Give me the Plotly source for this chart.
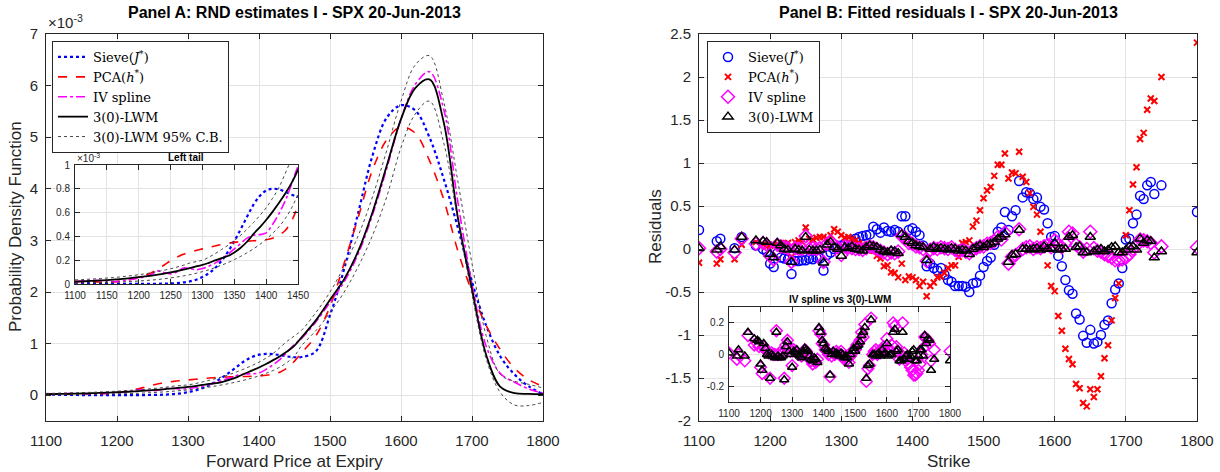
import plotly.graph_objects as go

# ---------------- Panel A data (densities in units of 1e-3) ----------------
fwd_price = [1100, 1110, 1120, 1130, 1140, 1150, 1160, 1170, 1180, 1190,
             1200, 1210, 1220, 1230, 1240, 1250, 1260, 1270, 1280, 1290,
             1300, 1310, 1320, 1330, 1340, 1350, 1360, 1370, 1380, 1390,
             1400, 1410, 1420, 1430, 1440, 1450,
             1460, 1480, 1500, 1520, 1540, 1560, 1580, 1600, 1620, 1640,
             1660, 1680, 1700, 1720, 1740, 1760, 1780, 1800]

rnd_sieve = [0.012, 0.010, 0.008, 0.006, 0.004, 0.003, 0.002, 0.001, 0.001, 0.001,
             0.001, 0.001, 0.001, 0.002, 0.003, 0.005, 0.008, 0.013, 0.022, 0.036,
             0.058, 0.090, 0.135, 0.195, 0.270, 0.360, 0.460, 0.565, 0.665, 0.740,
             0.785, 0.800, 0.795, 0.775, 0.750, 0.735,
             0.74, 0.85, 1.55, 2.45, 3.55, 4.65, 5.38, 5.62, 5.52, 5.00,
             4.20, 3.25, 2.20, 1.35, 0.75, 0.40, 0.17, 0.02]

rnd_pca = [0.020, 0.020, 0.019, 0.018, 0.017, 0.017, 0.018, 0.022, 0.030, 0.042,
           0.055, 0.072, 0.095, 0.125, 0.160, 0.195, 0.225, 0.250, 0.268, 0.282,
           0.295, 0.308, 0.320, 0.332, 0.342, 0.350, 0.356, 0.360, 0.363, 0.366,
           0.372, 0.385, 0.410, 0.450, 0.530, 0.660,
           0.82, 1.15, 1.72, 2.56, 3.46, 4.37, 4.95, 5.20, 5.08, 4.55,
           3.80, 2.80, 2.00, 1.35, 0.88, 0.52, 0.30, 0.17]

rnd_ivspline = [0.020, 0.025, 0.030, 0.032, 0.030, 0.025, 0.020, 0.022, 0.030, 0.040,
                0.050, 0.060, 0.080, 0.110, 0.095, 0.085, 0.100, 0.135, 0.130, 0.120,
                0.130, 0.150, 0.175, 0.210, 0.250, 0.295, 0.340, 0.385, 0.410, 0.415,
                0.430, 0.500, 0.590, 0.700, 0.840, 0.990,
                1.10, 1.42, 1.80, 2.20, 2.75, 3.50, 4.40, 5.35, 6.02, 6.27,
                5.55, 3.75, 2.15, 0.95, 0.42, 0.25, 0.12, 0.04]

rnd_lwm = [0.020, 0.022, 0.024, 0.027, 0.030, 0.033, 0.037, 0.041, 0.046, 0.051,
           0.057, 0.064, 0.071, 0.079, 0.088, 0.098, 0.109, 0.121, 0.134, 0.148,
           0.160, 0.178, 0.198, 0.218, 0.235, 0.265, 0.305, 0.355, 0.420, 0.476,
           0.538, 0.606, 0.680, 0.760, 0.850, 0.960,
           1.12, 1.45, 1.85, 2.25, 2.80, 3.55, 4.45, 5.35, 5.95, 6.12,
           5.30, 3.45, 2.05, 0.78, 0.16, 0.04, 0.025, 0.02]

rnd_cb_upper = [0.035, 0.037, 0.040, 0.043, 0.046, 0.050, 0.054, 0.059, 0.065, 0.071,
                0.078, 0.086, 0.095, 0.105, 0.116, 0.128, 0.142, 0.158, 0.176, 0.188,
                0.200, 0.225, 0.255, 0.290, 0.325, 0.365, 0.410, 0.460, 0.515, 0.575,
                0.640, 0.720, 0.810, 0.930, 1.050, 1.150,
                1.26, 1.60, 2.00, 2.50, 3.10, 3.85, 4.75, 5.70, 6.40, 6.58,
                5.70, 4.15, 2.55, 1.15, 0.40, 0.27, 0.21, 0.14]

rnd_cb_lower = [0.008, 0.009, 0.010, 0.011, 0.012, 0.013, 0.015, 0.017, 0.019, 0.022,
                0.025, 0.029, 0.033, 0.038, 0.044, 0.051, 0.059, 0.068, 0.078, 0.090,
                0.104, 0.120, 0.138, 0.158, 0.180, 0.205, 0.232, 0.262, 0.295, 0.332,
                0.375, 0.425, 0.480, 0.550, 0.640, 0.760,
                0.96, 1.25, 1.60, 2.00, 2.50, 3.10, 3.85, 4.80, 5.45, 5.70,
                4.90, 3.40, 1.95, 0.70, 0.05, -0.19, -0.20, -0.14]

# ---------------- Panel B data (fitted residuals) ----------------
strikes = [1100, 1125, 1130, 1150, 1160, 1180, 1190, 1195,
           1200, 1205, 1210, 1215, 1220, 1225, 1230, 1235, 1240, 1245,
           1250, 1255, 1260, 1265, 1270, 1275, 1280, 1285, 1290, 1295,
           1300, 1305, 1310, 1315, 1320, 1325, 1330, 1335, 1340, 1345,
           1350, 1355, 1360, 1365, 1370, 1375, 1380, 1385, 1390, 1395,
           1400, 1405, 1410, 1415, 1420, 1425, 1430, 1435, 1440, 1445,
           1450, 1455, 1460, 1465, 1470, 1475, 1480, 1485, 1490, 1495,
           1500, 1505, 1510, 1515, 1520, 1525, 1530, 1535, 1540, 1545,
           1550, 1555, 1560, 1565, 1570, 1575, 1580, 1585, 1590, 1595,
           1600, 1605, 1610, 1615, 1620, 1625, 1630, 1635, 1640, 1645,
           1650, 1655, 1660, 1665, 1670, 1675, 1680, 1685, 1690, 1695,
           1700, 1705, 1710, 1715, 1720, 1725, 1730, 1735, 1740, 1750,
           1800]

res_sieve = [0.22, 0.09, 0.12, 0.01, 0.14, 0.04, 0.00, -0.03,
             -0.17, -0.21, -0.05, -0.10, -0.11, -0.12, -0.29, -0.14, -0.14, -0.13,
             -0.13, -0.11, -0.12, -0.10, -0.11, -0.25, -0.07, -0.04, 0.00, 0.02,
             0.04, 0.06, 0.08, 0.10, 0.12, 0.14, 0.15, 0.16, 0.17, 0.26,
             0.23, 0.19, 0.25, 0.21, 0.20, 0.22, 0.20, 0.38, 0.38, 0.22,
             0.24, 0.20, 0.16, 0.04, -0.20, -0.17, -0.22, -0.25, -0.22, -0.30,
             -0.36, -0.38, -0.43, -0.43, -0.43, -0.44, -0.50, -0.40, -0.39, -0.31,
             -0.21, -0.14, -0.10, 0.05, 0.20, 0.25, 0.43, 0.22, 0.38, 0.45,
             0.79, 0.60, 0.66, 0.65, 0.58, 0.60, 0.49, 0.46, 0.30, 0.14,
             0.15, -0.08, -0.20, -0.36, -0.48, -0.52, -0.75, -0.82, -1.01, -1.09,
             -0.94, -1.10, -1.08, -1.00, -0.88, -0.83, -0.63, -0.47, -0.40, -0.22,
             0.11, 0.12, 0.30, 0.40, 0.62, 0.58, 0.74, 0.78, 0.64, 0.74,
             0.43]

res_pca = [-0.16, -0.17, -0.12, -0.12, 0.05, 0.08, 0.05, 0.03,
           0.04, 0.05, 0.06, 0.07, 0.06, 0.07, -0.09, 0.08, 0.10, 0.08,
           0.25, 0.12, 0.11, 0.13, 0.14, 0.14, 0.12, 0.16, 0.23, 0.20,
           0.16, 0.13, 0.14, 0.12, 0.10, 0.07, 0.05, 0.03, 0.01, -0.02,
           -0.08, -0.11, -0.20, -0.19, -0.27, -0.28, -0.33, -0.17, -0.36, -0.32,
           -0.33, -0.36, -0.43, -0.38, -0.55, -0.43, -0.39, -0.33, -0.32, -0.28,
           -0.22, -0.19, -0.19, -0.09, 0.07, 0.08, 0.10, 0.26, 0.33, 0.45,
           0.59, 0.68, 0.72, 0.85, 0.98, 0.98, 1.11, 0.82, 0.89, 0.88,
           1.13, 0.84, 0.78, 0.65, 0.49, 0.40, 0.20, 0.02, -0.19, -0.43,
           -0.49, -0.78, -0.95, -1.16, -1.28, -1.34, -1.57, -1.62, -1.79, -1.83,
           -1.63, -1.72, -1.63, -1.48, -1.27, -1.12, -0.83, -0.57, -0.40, -0.05,
           0.16, 0.45, 0.75, 0.95, 1.28, 1.35, 1.62, 1.75, 1.72, 2.00,
           2.40]

res_ivspline = [0.01, -0.03, 0.00, -0.04, 0.12, 0.06, 0.07, 0.05,
                -0.08, -0.12, 0.05, 0.03, 0.02, 0.01, -0.15, 0.01, 0.00, 0.00,
                0.15, 0.00, 0.01, 0.00, 0.01, -0.15, 0.06, 0.09, 0.04, 0.02,
                -0.07, 0.03, 0.02, 0.01, 0.00, 0.00, -0.01, 0.01, 0.03, 0.02,
                0.00, -0.02, -0.04, -0.06, -0.04, -0.05, -0.03, 0.15, 0.13, 0.07,
                0.06, 0.03, 0.02, 0.00, -0.14, -0.01, 0.01, 0.00, 0.02, 0.01,
                0.00, 0.02, -0.01, -0.03, -0.01, -0.03, -0.05, -0.01, 0.01, 0.03,
                0.03, 0.06, 0.07, 0.09, 0.14, 0.11, 0.19, -0.17, -0.09, -0.07,
                0.23, 0.00, 0.02, 0.03, 0.00, 0.02, 0.01, 0.03, 0.05, 0.02,
                0.10, 0.04, 0.02, 0.06, 0.20, 0.18, 0.05, 0.02, -0.03, 0.00,
                0.20, 0.01, -0.02, -0.03, -0.06, -0.08, -0.10, -0.13, -0.13, -0.12,
                -0.10, -0.06, 0.00, 0.04, 0.11, 0.10, 0.09, 0.07, -0.04, 0.03,
                0.02]

res_lwm = [0.01, -0.01, 0.03, -0.01, 0.14, 0.10, 0.09, 0.08,
           -0.06, -0.10, 0.07, 0.04, 0.00, -0.01, -0.15, 0.00, -0.01, -0.02,
           0.14, -0.01, -0.02, -0.02, -0.01, -0.16, 0.05, 0.08, 0.02, 0.00,
           -0.08, 0.02, 0.01, 0.03, 0.00, -0.01, -0.02, 0.02, 0.04, 0.03,
           0.02, -0.01, -0.03, -0.04, -0.02, -0.03, -0.05, 0.17, 0.14, 0.09,
           0.07, 0.04, 0.03, 0.02, -0.13, 0.00, 0.02, 0.00, 0.01, 0.00,
           -0.01, 0.01, 0.00, -0.02, -0.01, -0.02, -0.06, 0.00, 0.02, 0.04,
           0.02, 0.05, 0.06, 0.08, 0.12, 0.14, 0.17, -0.15, -0.07, -0.06,
           0.22, 0.00, 0.00, -0.01, 0.00, 0.01, -0.01, 0.03, 0.00, 0.01,
           0.07, -0.01, 0.00, 0.00, 0.14, 0.16, 0.02, 0.03, -0.04, -0.04,
           0.14, -0.03, -0.01, 0.00, -0.03, -0.01, 0.02, 0.03, -0.04, -0.04,
           -0.01, 0.03, 0.03, -0.01, 0.12, 0.07, 0.10, 0.09, -0.10, -0.03,
           -0.04]

# ticks
a_xticks = [1100, 1200, 1300, 1400, 1500, 1600, 1700, 1800]
a_yticks = [0, 1, 2, 3, 4, 5, 6, 7]
b_yticks = [-2, -1.5, -1, -0.5, 0, 0.5, 1, 1.5, 2, 2.5]
b_ytext = ["-2", "-1.5", "-1", "-0.5", "0", "0.5", "1", "1.5", "2", "2.5"]
ia_xticks = [1100, 1150, 1200, 1250, 1300, 1350, 1400, 1450]
ia_yticks = [0, 0.2, 0.4, 0.6, 0.8, 1]
ia_ytext = ["0", "0.2", "0.4", "0.6", "0.8", "1"]
ib_yticks = [-0.2, 0, 0.2]
ib_ytext = ["-0.2", "0", "0.2"]

# ---------------- layout helpers ----------------
W, H = 1220, 472
def fx(p):
    return p / W
def fy(p):
    return 1 - p / H

AX = '#262626'
GRID = '#e3e3e3'
SANS = 'Liberation Sans, Arial, sans-serif'
SERIF = 'DejaVu Serif, serif'

def axis(domain, rng, tickvals, ticktext=None, size=15, anchor=None, standoff=4):
    d = dict(domain=domain, range=rng, tickvals=tickvals, showline=True, linecolor=AX,
             linewidth=1, mirror='ticks', ticks='inside', ticklen=5, tickcolor=AX,
             showgrid=True, gridcolor=GRID, gridwidth=1, zeroline=False,
             tickfont=dict(family=SANS, size=size, color=AX), anchor=anchor,
             ticklabelstandoff=standoff, automargin=False)
    if ticktext is not None:
        d['ticktext'] = ticktext
    return d

fig = go.Figure()

# ---------------- Panel A main + inset ----------------
def add_rnd(xa, ya, show):
    fig.add_trace(go.Scatter(x=fwd_price, y=rnd_sieve, mode='lines', name='Sieve(<i>J</i><sup>*</sup>)',
                             line=dict(color='#0000ff', width=2.2, dash='dot', shape='spline'),
                             xaxis=xa, yaxis=ya, showlegend=show, legend='legend'))
    fig.add_trace(go.Scatter(x=fwd_price, y=rnd_pca, mode='lines', name='PCA(<i>h</i><sup>*</sup>)',
                             line=dict(color='#ff0000', width=1.6, dash='dash', shape='spline'),
                             xaxis=xa, yaxis=ya, showlegend=show, legend='legend'))
    fig.add_trace(go.Scatter(x=fwd_price, y=rnd_ivspline, mode='lines', name='IV spline',
                             line=dict(color='#ff00ff', width=1.6, dash='dashdot', shape='spline'),
                             xaxis=xa, yaxis=ya, showlegend=show, legend='legend'))
    fig.add_trace(go.Scatter(x=fwd_price, y=rnd_lwm, mode='lines', name='3(0)-LWM',
                             line=dict(color='#000000', width=1.8, shape='spline'),
                             xaxis=xa, yaxis=ya, showlegend=show, legend='legend'))
    fig.add_trace(go.Scatter(x=fwd_price, y=rnd_cb_upper, mode='lines', name='3(0)-LWM 95% C.B.',
                             line=dict(color='#333333', width=0.9, dash='dot', shape='spline'),
                             xaxis=xa, yaxis=ya, showlegend=show, legend='legend'))
    fig.add_trace(go.Scatter(x=fwd_price, y=rnd_cb_lower, mode='lines', name='3(0)-LWM 95% C.B.',
                             line=dict(color='#333333', width=0.9, dash='dot', shape='spline'),
                             xaxis=xa, yaxis=ya, showlegend=False, legend='legend'))

add_rnd('x', 'y', True)
add_rnd('x3', 'y3', False)

# ---------------- Panel B main + inset ----------------
def add_res(xa, ya, show, full=True, msize=9):
    if full:
        fig.add_trace(go.Scatter(x=strikes, y=res_sieve, mode='markers', name='Sieve(<i>J</i><sup>*</sup>)',
                                 marker=dict(symbol='circle-open', size=msize, color='#0000ff',
                                             line=dict(width=1.5, color='#0000ff')),
                                 xaxis=xa, yaxis=ya, showlegend=show, legend='legend2'))
        fig.add_trace(go.Scatter(x=strikes, y=res_pca, mode='markers', name='PCA(<i>h</i><sup>*</sup>)',
                                 marker=dict(symbol='x-thin-open', size=6, color='#ff0000',
                                             line=dict(width=2, color='#ff0000')),
                                 xaxis=xa, yaxis=ya, showlegend=show, legend='legend2'))
    fig.add_trace(go.Scatter(x=strikes, y=res_ivspline, mode='markers', name='IV spline',
                             marker=dict(symbol='diamond-open', size=msize + 1, color='#ff00ff',
                                         line=dict(width=1.5, color='#ff00ff')),
                             xaxis=xa, yaxis=ya, showlegend=show, legend='legend2'))
    fig.add_trace(go.Scatter(x=strikes, y=res_lwm, mode='markers', name='3(0)-LWM',
                             marker=dict(symbol='triangle-up-open', size=msize, color='#000000',
                                         line=dict(width=1.5, color='#000000')),
                             xaxis=xa, yaxis=ya, showlegend=show, legend='legend2'))

add_res('x2', 'y2', True)
add_res('x4', 'y4', False, full=False, msize=8)

# ---------------- axes ----------------
A_L, A_R, B_L, B_R, TOP, BOT = 46, 543, 699, 1197, 34, 421
layout = dict(
    width=W, height=H, margin=dict(l=0, r=0, t=0, b=0, autoexpand=False),
    paper_bgcolor='white', plot_bgcolor='white', showlegend=True,
    xaxis=axis([fx(A_L), fx(A_R)], [1100, 1800], a_xticks, anchor='y', standoff=6),
    yaxis=axis([fy(BOT), fy(TOP)], [-0.5, 7], a_yticks, anchor='x'),
    xaxis2=axis([fx(B_L), fx(B_R)], [1100, 1800], a_xticks, anchor='y2', standoff=6),
    yaxis2=axis([fy(BOT), fy(TOP)], [-2, 2.5], b_yticks, b_ytext, anchor='x2'),
    xaxis3=axis([fx(75), fx(298)], [1100, 1450], ia_xticks, size=10, anchor='y3', standoff=2),
    yaxis3=axis([fy(284), fy(165)], [0, 1], ia_yticks, ia_ytext, size=10, anchor='x3', standoff=2),
    xaxis4=axis([fx(729), fx(950)], [1100, 1800], a_xticks, size=10, anchor='y4', standoff=2),
    yaxis4=axis([fy(402), fy(307)], [-0.3, 0.3], ib_yticks, ib_ytext, size=10, anchor='x4', standoff=2),
    legend=dict(x=fx(52), y=fy(41), xanchor='left', yanchor='top', bgcolor='white',
                bordercolor=AX, borderwidth=1, font=dict(family=SERIF, size=13, color='#000000'),
                itemwidth=30),
    legend2=dict(x=fx(707), y=fy(41), xanchor='left', yanchor='top', bgcolor='white',
                 bordercolor=AX, borderwidth=1, font=dict(family=SERIF, size=13, color='#000000'),
                 itemwidth=30),
)
fig.update_layout(**layout)

# white backgrounds behind insets (drawn in the inset subplot layer)
fig.add_shape(type='rect', xref='x3', yref='y3', x0=1100, x1=1450, y0=0, y1=1,
              fillcolor='white', line=dict(width=0), layer='below')
fig.add_shape(type='rect', xref='x4', yref='y4', x0=1100, x1=1800, y0=-0.3, y1=0.3,
              fillcolor='white', line=dict(width=0), layer='below')

# ---------------- text ----------------
ann = []
def text(x, y, s, size, bold=False, angle=0, xanchor='center', yanchor='middle', color=AX):
    ann.append(dict(x=fx(x), y=fy(y), xref='paper', yref='paper', text=('<b>%s</b>' % s) if bold else s,
                    showarrow=False, font=dict(family=SANS, size=size, color=color if not bold else '#000000'),
                    textangle=angle, xanchor=xanchor, yanchor=yanchor))

text(294, 12, 'Panel A: RND estimates I - SPX 20-Jun-2013', 16, bold=True)
text(948, 12, 'Panel B: Fitted residuals I - SPX 20-Jun-2013', 16, bold=True)
text(46, 22, '×10<sup>-3</sup>', 15, xanchor='left')
text(16, 227, 'Probability Density Function', 17, angle=-90)
text(294, 461, 'Forward Price at Expiry', 17)
text(656, 227, 'Residuals', 17, angle=-90)
text(948, 461, 'Strike', 17)
text(186, 157, 'Left tail', 10, bold=True)
text(75, 158, '×10<sup>-3</sup>', 10, xanchor='left')
text(840, 299, 'IV spline vs 3(0)-LWM', 10, bold=True)
fig.update_layout(annotations=ann)

# the page body has a default 8px margin; remove it so the figure sits at the page origin
fig.write_html('out.html', config={'displayModeBar': False},
               post_script="document.body.style.margin='0px';document.body.style.overflow='hidden';")
